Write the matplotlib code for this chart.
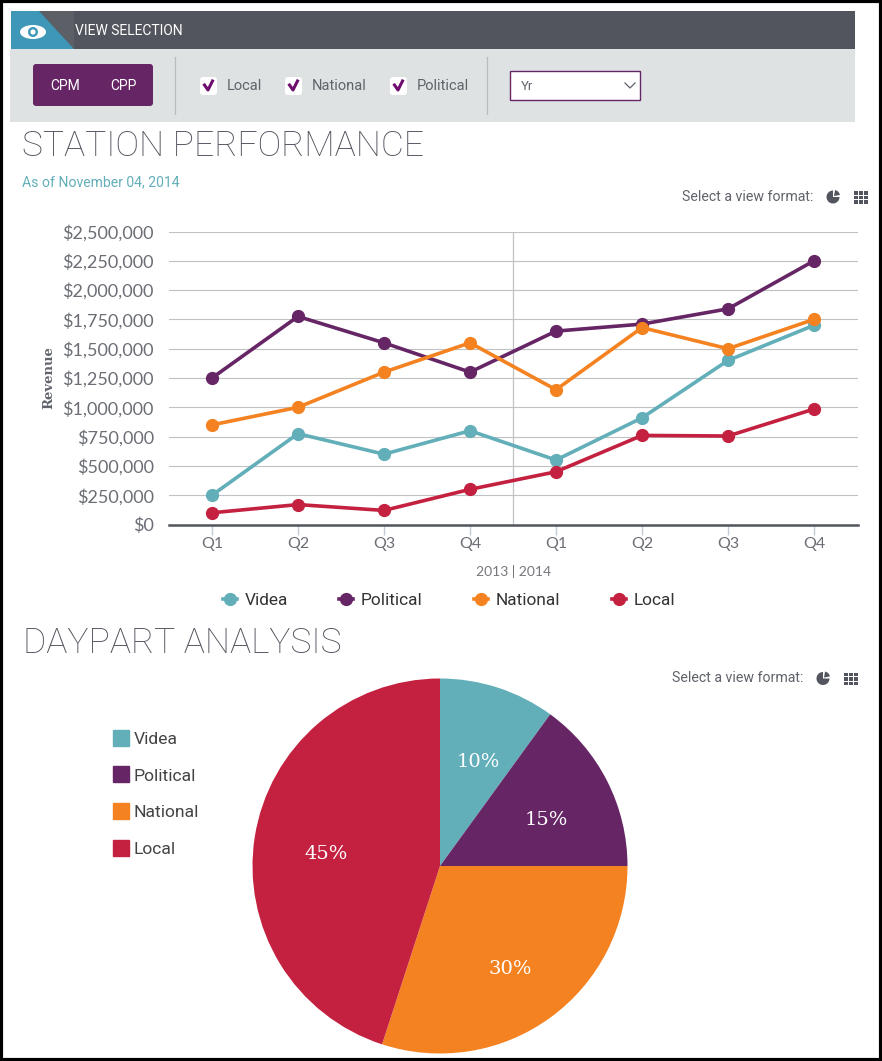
import matplotlib
matplotlib.use('Agg')
import matplotlib.pyplot as plt
from matplotlib.patches import Rectangle, Polygon, FancyBboxPatch, Circle, Wedge, Ellipse
from matplotlib.lines import Line2D

W, H = 882, 1061

quarters = ['Q1', 'Q2', 'Q3', 'Q4', 'Q1', 'Q2', 'Q3', 'Q4']
videa = [250000, 775000, 600000, 800000, 550000, 910000, 1400000, 1700000]
political = [1250000, 1775000, 1550000, 1300000, 1650000, 1710000, 1840000, 2250000]
national = [850000, 1000000, 1300000, 1550000, 1150000, 1680000, 1500000, 1750000]
local = [100000, 170000, 120000, 300000, 450000, 760000, 755000, 985000]
y_ticks = [0, 250000, 500000, 750000, 1000000, 1250000, 1500000, 1750000, 2000000, 2250000, 2500000]

pie_names = ['Videa', 'Political', 'National', 'Local']
pie_values = [10, 15, 30, 45]

TEAL = '#62aeb9'
PURPLE = '#662565'
ORANGE = '#f58220'
RED = '#c4203f'
DARK = '#52555e'
GREY = '#60636b'


def px_axes(x0, y0, x1, y1):
    # axes from pixel box, y measured from the top
    return fig.add_axes([x0 / W, 1 - y1 / H, (x1 - x0) / W, (y1 - y0) / H])


fig = plt.figure(figsize=(W / 100, H / 100), dpi=100, facecolor='white')

ui = fig.add_axes([0, 0, 1, 1])
ui.set_xlim(0, W)
ui.set_ylim(H, 0)
ui.axis('off')

# outer border
ui.add_patch(Rectangle((1, 1), W - 2, H - 2, fc='none', ec='black', lw=3))

# view selection panel
ui.add_patch(Rectangle((10, 49), 845, 73, fc='#dfe2e3', ec='none'))
ui.add_patch(Rectangle((11, 11), 844, 38, fc=DARK, ec='none'))
ui.add_patch(Polygon([(39, 11), (74, 11), (74, 49)], fc='#5c5f65', ec='none'))
ui.add_patch(Polygon([(11, 11), (39, 11), (74, 49), (11, 49)], fc='#3f97b8', ec='none'))
ui.add_patch(Ellipse((33, 32), 26, 14, fc='white', ec='none'))
ui.add_patch(Circle((33, 32), 5, fc='#3f97b8', ec='none'))
ui.add_patch(Circle((33, 32), 2.6, fc='white', ec='none'))
ui.text(75, 31, 'VIEW SELECTION', color='white', fontsize=10, family='Roboto', va='center')

ui.add_patch(FancyBboxPatch((33, 64), 120, 42, boxstyle='round,pad=0,rounding_size=3', fc=PURPLE, ec='none'))
ui.text(65, 85.5, 'CPM', color='white', fontsize=10, family='Roboto', va='center', ha='center')
ui.text(123, 85.5, 'CPP', color='white', fontsize=10, family='Roboto', va='center', ha='center')

for x in [174, 486]:
    ui.plot([x + 0.5, x + 0.5], [57, 114], color='#b9bcbe', lw=0.9)
for bx, tx, label in [(200, 227, 'Local'), (285, 312, 'National'), (390, 417, 'Political')]:
    ui.add_patch(FancyBboxPatch((bx, 77), 17, 18, boxstyle='round,pad=0,rounding_size=3', fc='white', ec='none'))
    ui.plot([bx + 4.5, bx + 8, bx + 12.5], [85, 90, 81], color='#6e0f70', lw=2.2)
    ui.text(tx, 85.5, label, color=GREY, fontsize=10.5, family='Roboto', va='center')
ui.add_patch(Rectangle((510, 71), 130, 29, fc='white', ec=PURPLE, lw=1))
ui.text(521, 86, 'Yr', color=GREY, fontsize=9.5, family='Roboto', va='center')
ui.plot([625, 630, 635], [83, 88, 83], color=GREY, lw=0.9)

# headings
ui.text(22, 146, 'STATION PERFORMANCE', color=DARK, fontsize=25.5, family='Roboto', weight='light', va='center')
ui.text(22, 182, 'As of November 04, 2014', color=TEAL, fontsize=10.1, family='Roboto', va='center')
ui.text(23, 643, 'DAYPART ANALYSIS', color=DARK, fontsize=25.5, family='Roboto', weight='light', va='center')


def view_icons(tx, cx, gx, cy):
    ui.text(tx, cy, 'Select a view format:', color=GREY, fontsize=10.2, family='Roboto', va='center', ha='right')
    ui.add_patch(Wedge((cx, cy), 6.5, 0, 270, fc=DARK, ec='none'))
    ui.add_patch(Wedge((cx + 1, cy - 1), 6, 280, 350, fc=DARK, ec='none'))
    for i in range(3):
        for j in range(3):
            ui.add_patch(Rectangle((gx + i * 5, cy - 6 + j * 4.5), 4, 3.5, fc=DARK, ec='none'))


view_icons(813, 833, 854, 197)
view_icons(803, 823, 844, 678.5)

# line chart
ax = px_axes(169, 231.5, 858, 524.5)
ax.set_ylim(0, 2500000)
ax.set_xlim((169 - 212) / 86, (858 - 212) / 86)
ax.patch.set_alpha(0)
series = [(videa, TEAL, 'Videa'), (political, PURPLE, 'Political'), (national, ORANGE, 'National'), (local, RED, 'Local')]
for values, col, name in series:
    ax.plot(range(8), values, color=col, lw=2.6, marker='o', ms=8.5, label=name, clip_on=False, zorder=3)
ax.set_yticks(y_ticks)
ax.set_yticklabels(['${:,}'.format(v) for v in y_ticks], fontsize=13, family='Lato', color='#6b6e75')
ax.set_xticks(range(8))
ax.set_xticklabels(quarters, fontsize=11.5, family='Lato', color='#6b6e75')
ax.tick_params(axis='y', length=0, pad=11)
ax.tick_params(axis='x', length=7, color='#c5cbd6', width=1, pad=2)
ax.grid(axis='y', color='#c0c2c4', lw=0.8)
ax.set_axisbelow(True)
ax.axvline(3.5, color='#c0c2c4', lw=0.9, zorder=1)
for s in ['top', 'right', 'left']:
    ax.spines[s].set_visible(False)
ax.spines['bottom'].set_color(DARK)
ax.spines['bottom'].set_linewidth(1.8)
ax.set_ylabel('Revenue', fontsize=9.5, family='DejaVu Serif', weight='bold', color=GREY, labelpad=0)
ax.yaxis.set_label_coords((55 - 169) / 689, (524.5 - 378) / 293)
ui.text(513.5, 572, '2013 | 2014', color='#77777d', fontsize=10, family='Lato', ha='center', va='center')
ax.legend(loc='center', bbox_to_anchor=(449 / W, 1 - 600.5 / H), bbox_transform=fig.transFigure,
          ncol=4, frameon=False, prop={'family': 'Roboto', 'size': 12.4}, handlelength=0.8, handletextpad=0.45,
          columnspacing=3.0, labelcolor='#333333')

# pie chart
pax = px_axes(440 - 187.5, 866 - 187.5, 440 + 187.5, 866 + 187.5)
pie_cols = [TEAL, PURPLE, ORANGE, RED]
wedges, texts, autotexts = pax.pie(pie_values, colors=pie_cols, startangle=90, counterclock=False, radius=1,
                                   autopct='%d%%', pctdistance=0.6,
                                   textprops={'color': 'white', 'fontsize': 14, 'family': 'DejaVu Serif'})
pax.set_xlim(-1, 1)
pax.set_ylim(-1, 1)
# nudge the percent labels, pixels right and down
nudges = [(4, 3), (6, 5), (4, 12), (-3, 6)]
for t, (dx, dy) in zip(autotexts, nudges):
    x, y = t.get_position()
    t.set_position((x + dx / 187.5, y - dy / 187.5))

handles = [Line2D([], [], ls='none', marker='s', ms=11.5, color=c) for c in pie_cols]
pax.legend(handles, pie_names, loc='upper left', bbox_to_anchor=(96 / W, 1 - 716 / H), bbox_transform=fig.transFigure,
           frameon=False, prop={'family': 'Roboto', 'size': 12.6}, labelspacing=1.22, handlelength=1.0,
           handletextpad=0.25, labelcolor='#444444')

fig.savefig('out.png', dpi=100)
